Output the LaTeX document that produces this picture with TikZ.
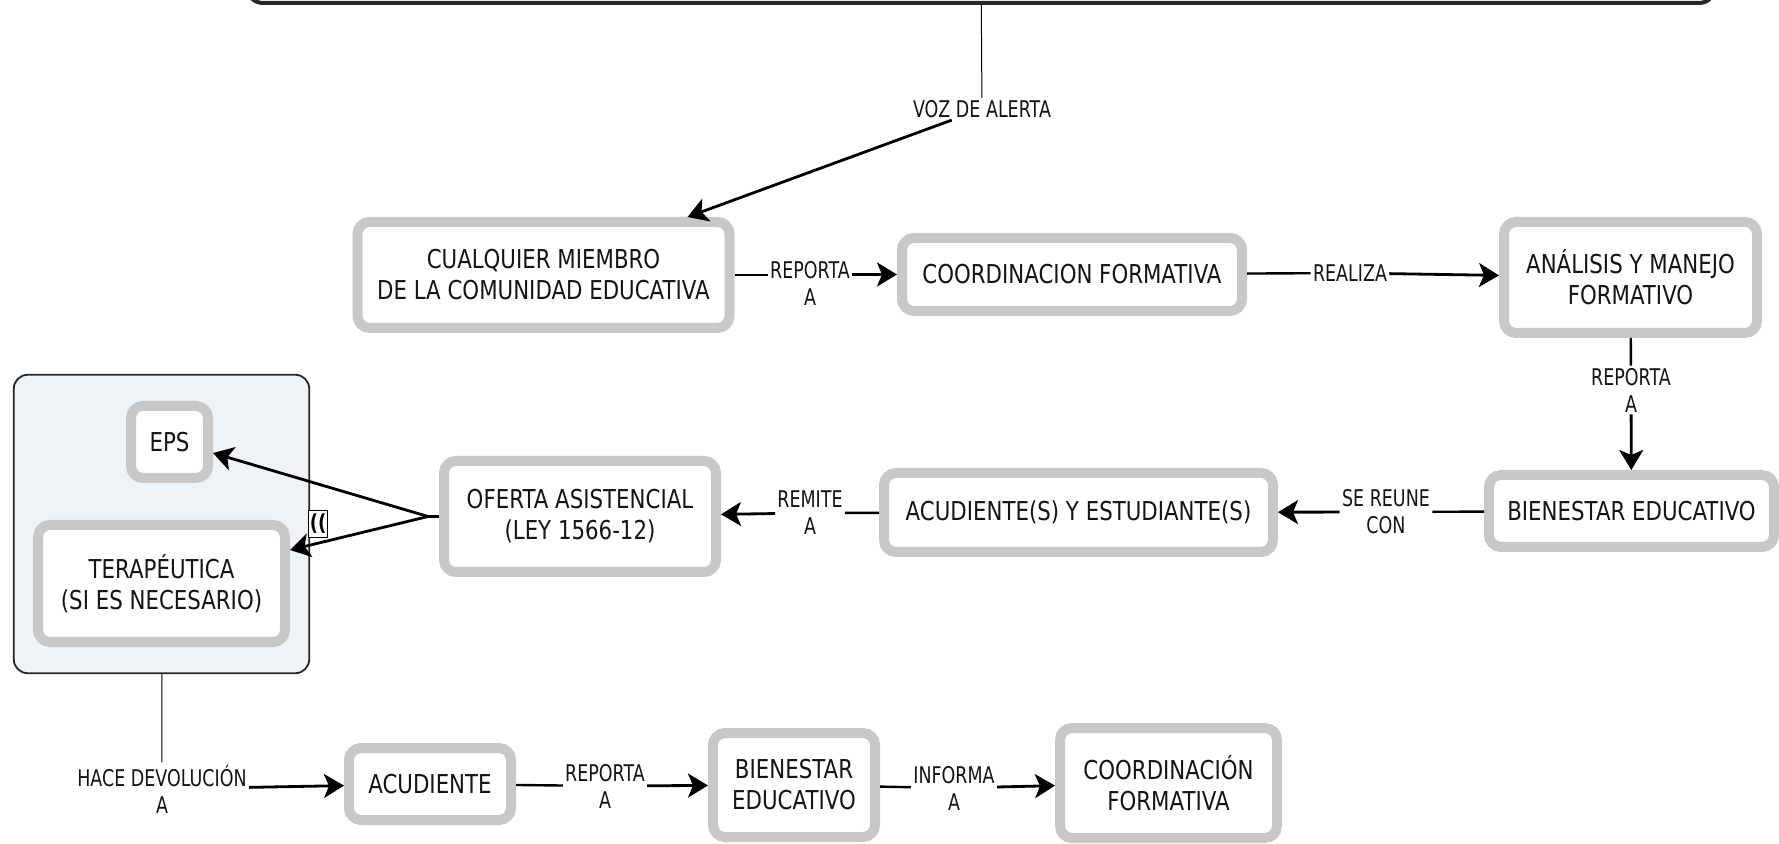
\documentclass[tikz,border=0pt]{standalone}
\usepackage{fontspec}
\setmainfont{DejaVu Sans}[FakeStretch=0.82]
\newfontfamily\lblfont{DejaVu Sans}[FakeStretch=0.76]
\usetikzlibrary{arrows.meta,positioning}
\definecolor{bordegris}{RGB}{200,200,200}
\definecolor{fondogrupo}{RGB}{237,243,246}
\definecolor{tinta}{RGB}{20,20,20}

\begin{document}
\begin{tikzpicture}[x=0.5pt,y=-0.5pt,
  concepto/.style={rectangle,rounded corners=6pt,draw=bordegris,line width=5pt,fill=white,align=center,text=tinta,inner sep=2pt,font=\fontsize{13}{15.5}\selectfont},
  enlace/.style={align=center,inner sep=1pt,text=tinta,font=\lblfont\fontsize{11.5}{13.5}\selectfont},
  linea/.style={line width=1.2pt},
  flecha/.style={line width=1.4pt,-{Stealth[length=10pt,width=12pt,inset=2.5pt]}}]
 \clip (0,0) rectangle (1779,844);

 \node[draw=black!85,line width=2pt,rounded corners=8pt,minimum width=734pt,minimum height=40pt] (origen) at (981,-37) {};

 \node[concepto,minimum width=186pt,minimum height=53pt] (miembro) at (543.5,275) {CUALQUIER MIEMBRO\\DE LA COMUNIDAD EDUCATIVA};
 \node[concepto,minimum width=170pt,minimum height=36.5pt] (coordf) at (1072,274.5) {COORDINACION FORMATIVA};
 \node[concepto,minimum width=126.5pt,minimum height=55.5pt] (analisis) at (1630.5,277.5) {ANÁLISIS Y MANEJO\\FORMATIVO};
 \node[concepto,minimum width=142.5pt,minimum height=36pt] (bienestar) at (1631.5,511) {BIENESTAR EDUCATIVO};
 \node[concepto,minimum width=194.5pt,minimum height=39.5pt] (acudest) at (1078.5,512.5) {ACUDIENTE(S) Y ESTUDIANTE(S)};
 \node[concepto,minimum width=136pt,minimum height=55.5pt] (oferta) at (580,516.5) {OFERTA ASISTENCIAL\\(LEY 1566-12)};

 \node[draw=black!85,fill=fondogrupo,line width=0.9pt,rounded corners=7pt,minimum width=147.75pt,minimum height=149.25pt] (grupo) at (161.5,524) {};
 \node[concepto,minimum width=38.5pt,minimum height=36pt] (eps) at (169.5,442) {EPS};
 \node[concepto,minimum width=123.5pt,minimum height=58.5pt] (tera) at (161.5,583.5) {TERAPÉUTICA\\(SI ES NECESARIO)};

 \node[concepto,minimum width=81pt,minimum height=36pt] (acud) at (430,784) {ACUDIENTE};
 \node[concepto,minimum width=81pt,minimum height=52pt] (bienestarb) at (794,785) {BIENESTAR\\EDUCATIVO};
 \node[concepto,minimum width=108.5pt,minimum height=55pt] (coordfb) at (1168.5,783) {COORDINACIÓN\\FORMATIVA};

 \node[enlace] (voz) at (982,109) {VOZ DE ALERTA};
 \node[enlace] (reporta) at (810,283) {REPORTA\\A};
 \node[enlace] (realiza) at (1350,273) {REALIZA};
 \node[enlace] (reportab) at (1631,390) {REPORTA\\A};
 \node[enlace] (reune) at (1386,512) {SE REUNE\\CON};
 \node[enlace] (remite) at (810,513) {REMITE\\A};
 \node[enlace] (devol) at (162,789) {HACE DEVOLUCIÓN\\A};
 \node[enlace] (reportac) at (605,786) {REPORTA\\A};
 \node[enlace] (informa) at (954,788) {INFORMA\\A};

 \draw[line width=0.5pt] (origen) -- (voz);
 \draw[flecha] (voz) -- ([xshift=-23.5pt]miembro.north east);
 \draw[linea] (miembro.east) -- (miembro.east -| reporta.west);
 \draw[flecha] (reporta.east |- coordf.west) -- (coordf.west);
 \draw[linea] (coordf) -- (realiza);
 \draw[flecha] (realiza) -- (analisis);
 \draw[linea] (analisis) -- (reportab);
 \draw[flecha] (reportab) -- (bienestar);
 \draw[linea] (bienestar) -- (reune);
 \draw[flecha] (reune) -- (acudest);
 \draw[linea] (acudest) -- (remite);
 \draw[flecha] (remite) -- (oferta);

 \coordinate (bifurca) at ([xshift=-5.5pt]oferta.west);
 \draw[linea] (oferta.west) -- (bifurca);
 \draw[flecha] (bifurca) -- ([yshift=-5.5pt]eps.east);
 \draw[flecha] (bifurca) -- ([yshift=16.75pt]tera.east);
 \node[draw=black,fill=white,line width=0.6pt,inner sep=0pt,minimum width=9.5pt,minimum height=13.5pt,font=\fontsize{11}{11}\bfseries] (plegar) at (318,524) {((};

 \draw[line width=0.5pt] (grupo) -- (devol);
 \draw[flecha] (devol) -- (acud);
 \draw[linea] (acud) -- (reportac);
 \draw[flecha] (reportac) -- (bienestarb);
 \draw[linea] (bienestarb) -- (informa);
 \draw[flecha] (informa) -- (coordfb);
\end{tikzpicture}
\end{document}
